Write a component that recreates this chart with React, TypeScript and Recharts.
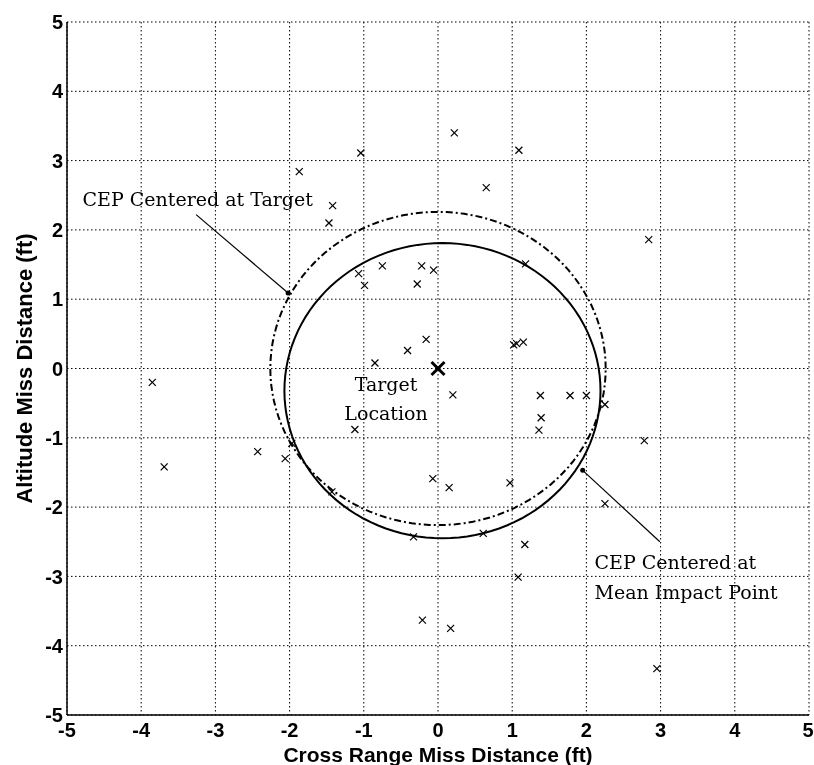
import { CartesianGrid, ReferenceLine, Scatter, ScatterChart, XAxis, YAxis } from 'recharts';

// impact points (ft)
const hitX = [
  -1.87, -1.04, -1.42, -1.47, -1.07, -0.75, -0.99, -0.22, -0.06, -0.28, -0.41, -0.85, -3.85,
  0.22, 1.09, 0.65, 2.84, 1.18, -0.16, 1.02, 1.06, 1.15, 0.2, 1.38, 1.78, 2.0, 2.25, 1.39,
  1.36, 2.78, -0.07, 0.15, 0.97, 2.25, -0.33, 0.61, 1.17, 1.08, -0.21, 0.17, 2.95, -1.12,
  -2.43, -2.06, -3.69, -1.97, -1.43,
];
const hitY = [
  2.84, 3.11, 2.35, 2.1, 1.37, 1.48, 1.2, 1.48, 1.42, 1.22, 0.26, 0.08, -0.2,
  3.4, 3.15, 2.61, 1.86, 1.51, 0.42, 0.34, 0.36, 0.38, -0.38, -0.39, -0.39, -0.39, -0.52, -0.71,
  -0.89, -1.04, -1.59, -1.72, -1.65, -1.95, -2.43, -2.38, -2.54, -3.01, -3.63, -3.75, -4.33, -0.88,
  -1.2, -1.3, -1.42, -1.08, -1.78,
];

const ticks = [-5, -4, -3, -2, -1, 0, 1, 2, 3, 4, 5];

// CEP circles: centre and radius
const cepTarget = { cx: 0, cy: 0, r: 2.26 };
const cepMean = { cx: 0.06, cy: -0.32, r: 2.13 };

const leaders = [
  { x1: -3.26, y1: 2.22, x2: -2.02, y2: 1.09 },
  { x1: 2.99, y1: -2.5, x2: 1.95, y2: -1.47 },
];

const notes = [
  { x: -4.79, y: 2.34, text: 'CEP Centered at Target', anchor: 'start' },
  { x: -0.7, y: -0.33, text: 'Target', anchor: 'middle' },
  { x: -0.7, y: -0.75, text: 'Location', anchor: 'middle' },
  { x: 2.11, y: -2.89, text: 'CEP Centered at', anchor: 'start' },
  { x: 2.11, y: -3.32, text: 'Mean Impact Point', anchor: 'start' },
];

function ring(c: { cx: number; cy: number; r: number }) {
  const pts = [];
  for (let i = 0; i <= 120; i++) {
    const a = (i / 120) * Math.PI * 2;
    pts.push({ x: c.cx + c.r * Math.cos(a), y: c.cy + c.r * Math.sin(a) });
  }
  return pts;
}

const hits = hitX.map((x, i) => ({ x, y: hitY[i] }));
const target = [{ x: 0, y: 0 }];

const sans = 'Liberation Sans, Arial, sans-serif';
const tickStyle = { fill: '#000', fontSize: 20, fontWeight: 700, fontFamily: sans };
const titleStyle = { fill: '#000', fontSize: 21, fontWeight: 700, fontFamily: sans };

function cross(cx: number, cy: number, arm: number, sw: number) {
  if (cx == null || cy == null) return <g />;
  return (
    <g stroke="#000" strokeWidth={sw}>
      <line x1={cx - arm} y1={cy - arm} x2={cx + arm} y2={cy + arm} />
      <line x1={cx - arm} y1={cy + arm} x2={cx + arm} y2={cy - arm} />
    </g>
  );
}

function note(p: any) {
  return (
    <text
      x={p.cx}
      y={p.cy}
      textAnchor={p.payload.anchor}
      fontFamily="DejaVu Serif, serif"
      fontSize={19}
      fill="#000"
    >
      {p.payload.text}
    </text>
  );
}

// x tick: the last label is nudged left so it stays inside the page
function xTick(p: any) {
  const v = p.payload.value;
  const shift = v === 5 ? -1 : 0;
  return (
    <text x={p.x + shift} y={p.y} dy="0.71em" textAnchor="middle" {...tickStyle}>
      {v}
    </text>
  );
}

export default function App() {
  return (
    <div style={{ position: 'fixed', left: 0, top: 0 }}>
      <ScatterChart width={814} height={765} margin={{ top: 22, right: 5, bottom: 0, left: 27 }}>
        <CartesianGrid stroke="#000" strokeDasharray="1.5 2.5" strokeWidth={1} />
        <XAxis
          type="number"
          dataKey="x"
          domain={[-5, 5]}
          ticks={ticks}
          height={50}
          tick={xTick}
          tickLine={false}
          tickSize={0}
          tickMargin={8}
          axisLine={{ stroke: '#000', strokeWidth: 1.5 }}
          allowDataOverflow
          label={{ value: 'Cross Range Miss Distance (ft)', position: 'insideBottom', offset: 3, style: titleStyle }}
        />
        <YAxis
          type="number"
          dataKey="y"
          domain={[-5, 5]}
          ticks={ticks}
          width={40}
          tick={tickStyle}
          tickLine={false}
          tickSize={0}
          tickMargin={4}
          axisLine={{ stroke: '#000', strokeWidth: 1.5 }}
          allowDataOverflow
          label={{
            value: 'Altitude Miss Distance (ft)',
            angle: -90,
            position: 'insideLeft',
            offset: -3,
            style: { ...titleStyle, fontSize: 22, textAnchor: 'middle' },
          }}
        />
        {leaders.map((l, i) => (
          <ReferenceLine
            key={i}
            segment={[{ x: l.x1, y: l.y1 }, { x: l.x2, y: l.y2 }]}
            stroke="#000"
            strokeWidth={1.2}
            ifOverflow="visible"
          />
        ))}
        <Scatter
          data={ring(cepTarget)}
          line={{ stroke: '#000', strokeWidth: 2, strokeDasharray: '7 3 2 3' }}
          lineType="joint"
          shape={() => <g />}
          isAnimationActive={false}
        />
        <Scatter
          data={ring(cepMean)}
          line={{ stroke: '#000', strokeWidth: 2 }}
          lineType="joint"
          shape={() => <g />}
          isAnimationActive={false}
        />
        <Scatter data={hits} shape={(p: any) => cross(p.cx, p.cy, 3.5, 1.2)} isAnimationActive={false} />
        <Scatter data={target} shape={(p: any) => cross(p.cx, p.cy, 6.5, 3)} isAnimationActive={false} />
        <Scatter
          data={leaders.map((l) => ({ x: l.x2, y: l.y2 }))}
          shape={(p: any) => <circle cx={p.cx} cy={p.cy} r={2.5} fill="#000" />}
          isAnimationActive={false}
        />
        <Scatter data={notes} shape={note} isAnimationActive={false} />
      </ScatterChart>
    </div>
  );
}
